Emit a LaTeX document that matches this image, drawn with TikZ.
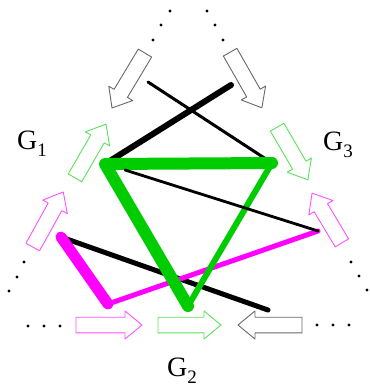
\documentclass[tikz,border=0pt]{standalone}
\usepackage{fontspec}
\setmainfont{Liberation Serif}
\definecolor{gmain}{RGB}{0,204,0}
\definecolor{gline}{RGB}{90,225,90}
\definecolor{mag}{RGB}{255,0,255}
\definecolor{mline}{RGB}{255,80,255}
\definecolor{garrow}{RGB}{105,105,105}
\newcommand{\blockarr}[4]{% center, angle, length, color
  \begin{scope}[shift={#1},rotate=#2]
    \draw[#4, line width=0.9pt, line join=round]
      ({-#3/2},-7.8) -- ({#3/2-17},-7.8) -- ({#3/2-17},-14) -- ({#3/2},0)
      -- ({#3/2-17},14) -- ({#3/2-17},7.8) -- ({-#3/2},7.8) -- cycle;
  \end{scope}}
\tikzset{
  lbl/.style={font=\fontsize{28}{30}\selectfont, inner sep=0pt, anchor=base west},
  stroke/.style={line cap=round, line join=round}
}
\begin{document}
\begin{tikzpicture}[x=1pt,y=-1pt]
\useasboundingbox (0,0) rectangle (370,389);
% dots
\foreach \p in {(170,11),(161,25),(153,40),(207,11),(215,25),(223,40),
  (24,262),(17,277),(9,291),(28,326),(44,326),(60,326),
  (317,325),(333,325),(349,325),(351,262),(359,276),(367,290)}
  \fill \p circle (1.6);
% block arrows
\blockarr{(128.5,80.5)}{-121}{64}{garrow}
\blockarr{(246,80)}{-60.3}{64}{garrow}
\blockarr{(90.5,151)}{60}{62}{gline}
\blockarr{(48,219.5)}{61}{63}{mline}
\blockarr{(292.5,153.5)}{-59.7}{61}{gline}
\blockarr{(327,218)}{121}{58}{mline}
\blockarr{(109,325)}{0}{66}{mline}
\blockarr{(189.5,325)}{0}{63}{gline}
\blockarr{(270,325)}{180}{64}{garrow}
% coordinates
\coordinate (gL) at (105,164);
\coordinate (gR) at (272,163);
\coordinate (gB) at (188,306);
\coordinate (bk1) at (231,85);
\coordinate (bk2) at (148,82);
\coordinate (bk3) at (125,170);
\coordinate (mR) at (318,231);
\coordinate (mL) at (61,237);
\coordinate (mB) at (108,304);
\coordinate (bk4) at (268,310);
% black strokes
\draw[stroke, line width=3pt] (bk2) -- (gR);
\draw[stroke, line width=6pt] (gL) -- (bk1);
\draw[stroke, line width=5pt] (mL) -- (bk4);
% magenta
\draw[stroke, mag, line width=11pt] (mL) -- (mB);
\draw[stroke, mag, line width=5pt] (mB) -- (mR);
% green
\draw[stroke, gmain, line width=12pt] (gR) -- (gL) -- (gB);
\draw[stroke, gmain, line width=6pt] (gB) -- (gR);
% black thin on top
\draw[stroke, line width=2.8pt] (bk3) -- (mR);
% labels
\node[lbl] (G1) at (17,149) {G\raisebox{-7pt}{\fontsize{19}{20}\selectfont 1}};
\node[lbl] (G3) at (323,150) {G\raisebox{-7pt}{\fontsize{19}{20}\selectfont 3}};
\node[lbl] (G2) at (167,376) {G\raisebox{-7pt}{\fontsize{19}{20}\selectfont 2}};
\end{tikzpicture}
\end{document}
